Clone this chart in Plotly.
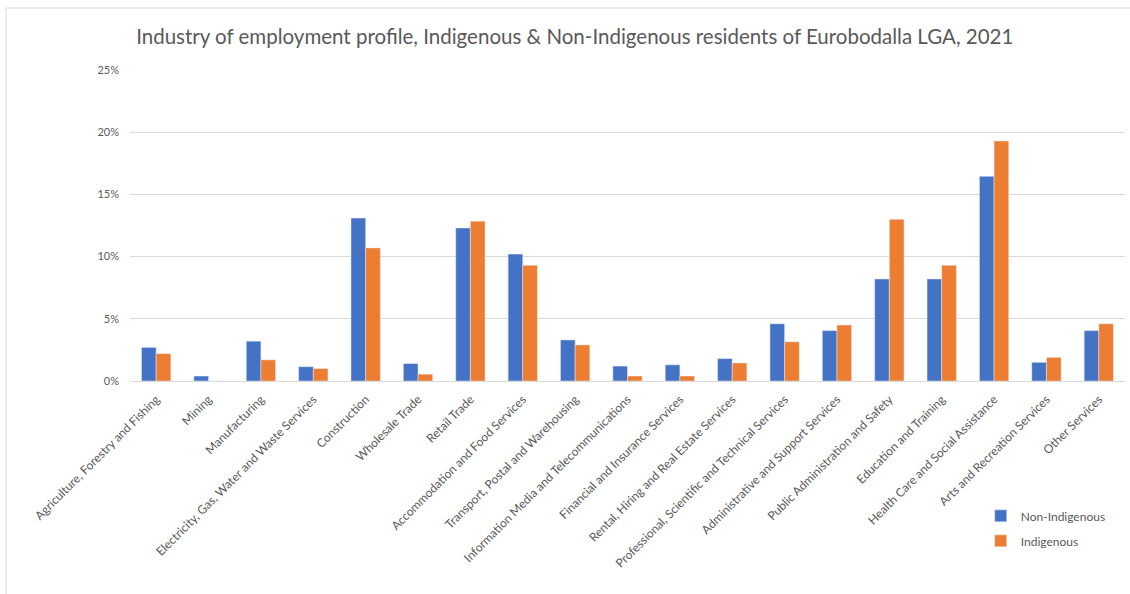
import plotly.graph_objects as go

industries = [
    "Agriculture, Forestry and Fishing", "Mining", "Manufacturing",
    "Electricity, Gas, Water and Waste Services", "Construction", "Wholesale Trade",
    "Retail Trade", "Accommodation and Food Services", "Transport, Postal and Warehousing",
    "Information Media and Telecommunications", "Financial and Insurance Services",
    "Rental, Hiring and Real Estate Services", "Professional, Scientific and Technical Services",
    "Administrative and Support Services", "Public Administration and Safety",
    "Education and Training", "Health Care and Social Assistance",
    "Arts and Recreation Services", "Other Services",
]

non_indigenous = [2.7, 0.4, 3.2, 1.15, 13.1, 1.4, 12.3, 10.2, 3.3, 1.2, 1.3, 1.8,
                  4.6, 4.05, 8.2, 8.2, 16.45, 1.5, 4.05]
indigenous = [2.2, 0.0, 1.7, 1.0, 10.7, 0.55, 12.85, 9.3, 2.9, 0.4, 0.4, 1.45,
              3.15, 4.5, 13.0, 9.3, 19.3, 1.9, 4.6]

y_ticks = [0, 5, 10, 15, 20, 25]
y_tick_labels = ["0%", "5%", "10%", "15%", "20%", "25%"]

BLUE = "#4472C4"
ORANGE = "#ED7D31"
GREY_TEXT = "#595959"
GRID = "#D9D9D9"
FONT = "Lato, 'Open Sans', sans-serif"

fig = go.Figure()
fig.add_trace(go.Bar(name="Non-Indigenous", x=industries, y=non_indigenous,
                     marker_color=BLUE, legendgroup="a"))
fig.add_trace(go.Bar(name="Indigenous", x=industries, y=indigenous,
                     marker_color=ORANGE, legendgroup="b"))

fig.update_layout(
    width=1130, height=594,
    margin=dict(l=130, r=5, t=70, b=213),
    paper_bgcolor="white", plot_bgcolor="white",
    barmode="group", bargap=0.44, bargroupgap=0.0,
    font=dict(family=FONT, color=GREY_TEXT, size=11),
    title=dict(
        text="Industry of employment profile, Indigenous & Non-Indigenous residents of Eurobodalla LGA, 2021",
        x=0.447, xref="paper", xanchor="center",
        y=1 - 37 / 594, yanchor="middle",
        font=dict(family=FONT, size=20.5, color=GREY_TEXT),
    ),
    legend=dict(
        x=0.855, y=-0.387, xanchor="left", yanchor="top",
        orientation="v", tracegroupgap=6,
        font=dict(family=FONT, size=12, color=GREY_TEXT),
        bgcolor="rgba(0,0,0,0)", itemwidth=30,
    ),
    xaxis=dict(
        tickangle=-45, showgrid=False, showline=False, ticks="",
        ticklabelstandoff=8,
        tickfont=dict(family=FONT, size=12, color=GREY_TEXT),
    ),
    yaxis=dict(
        range=[0, 25], tickvals=y_ticks, ticktext=y_tick_labels,
        showgrid=True, gridcolor=GRID, gridwidth=1,
        zeroline=True, zerolinecolor=GRID, zerolinewidth=1,
        showline=False, ticks="", ticklabelstandoff=10,
        tickfont=dict(family=FONT, size=11, color=GREY_TEXT),
    ),
    shapes=[
        dict(type="rect", xref="paper", yref="paper",
             x0=-124 / 995, x1=1.05, y0=-0.75, y1=373 / 311,
             line=dict(color=GRID, width=1), layer="below"),
    ],
)

fig.write_html("out.html")
